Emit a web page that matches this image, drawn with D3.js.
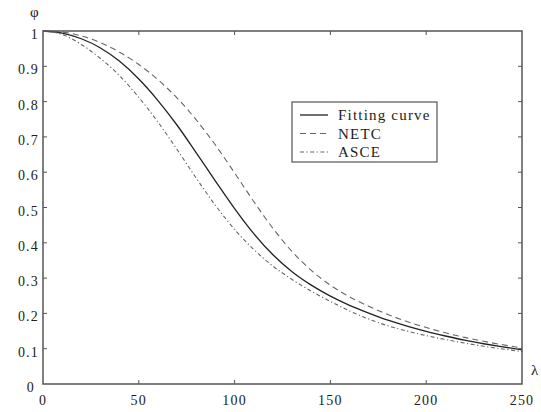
<!DOCTYPE html>
<html>
<head>
<meta charset="utf-8">
<script src="https://cdn.jsdelivr.net/npm/d3@7"></script>
<style>
  body { margin: 0; background: #fff; }
  text { font-family: "Liberation Serif", "Times New Roman", serif; fill: #222; }
</style>
</head>
<body>
<div id="chart"></div>
<script>
// slenderness ratio samples
const lambda = [0, 10, 20, 30, 40, 50, 60, 70, 80, 90, 100, 110, 120, 130, 140, 150, 160, 170, 180, 190, 200, 210, 220, 230, 240, 250];
// fitting curve
const fitting = [1, 0.994, 0.978, 0.952, 0.914, 0.864, 0.803, 0.733, 0.655, 0.575, 0.497, 0.426, 0.366, 0.318, 0.28, 0.249, 0.223, 0.201, 0.181, 0.164, 0.149, 0.136, 0.124, 0.114, 0.105, 0.097];
// NETC
const netc = [1, 0.997, 0.986, 0.967, 0.94, 0.905, 0.862, 0.81, 0.748, 0.677, 0.598, 0.517, 0.441, 0.375, 0.322, 0.28, 0.247, 0.22, 0.197, 0.177, 0.16, 0.145, 0.132, 0.121, 0.111, 0.102];
// ASCE
const asce = [1, 0.99, 0.962, 0.922, 0.873, 0.812, 0.742, 0.664, 0.583, 0.506, 0.438, 0.381, 0.334, 0.296, 0.263, 0.234, 0.207, 0.184, 0.165, 0.15, 0.137, 0.126, 0.116, 0.107, 0.099, 0.092];

const xTicks = [0, 50, 100, 150, 200, 250];
const yTicks = [0, 0.1, 0.2, 0.3, 0.4, 0.5, 0.6, 0.7, 0.8, 0.9, 1];
const legendNames = ["Fitting curve", "NETC", "ASCE"];

const width = 541, height = 412;
const margin = { top: 31, right: 19, bottom: 28, left: 43 };
const w = width - margin.left - margin.right;
const h = height - margin.top - margin.bottom;

const svg = d3.select("#chart").append("svg")
    .attr("width", width)
    .attr("height", height);

const g = svg.append("g")
    .attr("transform", "translate(" + margin.left + "," + margin.top + ")");

const x = d3.scaleLinear().domain([0, 250]).range([0, w]);
const y = d3.scaleLinear().domain([0, 1]).range([h, 0]);

// curves
const series = [
    { values: fitting, dash: null, color: "#222", width: 1.3 },
    { values: netc, dash: "6,4", color: "#666", width: 1.1 },
    { values: asce, dash: "4,2.5,1.2,2.5", color: "#666", width: 1.1 }
];

const line = d3.line()
    .x(d => x(d[0]))
    .y(d => y(d[1]))
    .curve(d3.curveMonotoneX);

series.forEach(s => {
    g.append("path")
        .datum(lambda.map((l, i) => [l, s.values[i]]))
        .attr("fill", "none")
        .attr("stroke", s.color)
        .attr("stroke-width", s.width)
        .attr("stroke-dasharray", s.dash)
        .attr("d", line);
});

// inward ticks, on all four sides
const axisColor = "#555";
const tl = 4;
g.selectAll(".xt").data(xTicks.slice(1, -1)).enter().append("path")
    .attr("stroke", axisColor)
    .attr("d", d => "M" + x(d) + "," + h + "v" + (-tl) + "M" + x(d) + ",0v" + tl);
g.selectAll(".yt").data(yTicks.slice(1, -1)).enter().append("path")
    .attr("stroke", axisColor)
    .attr("d", d => "M0," + y(d) + "h" + tl + "M" + w + "," + y(d) + "h" + (-tl));

// frame
g.append("rect")
    .attr("width", w)
    .attr("height", h)
    .attr("fill", "none")
    .attr("stroke", axisColor)
    .attr("stroke-width", 1.5);

// tick labels
g.selectAll(".xl").data(xTicks).enter().append("text")
    .attr("x", d => x(d))
    .attr("y", h + 21)
    .attr("text-anchor", "middle")
    .attr("font-size", 14)
    .attr("letter-spacing", 1.2)
    .text(d => d);

g.selectAll(".yl").data(yTicks).enter().append("text")
    .attr("x", d => d === 0 ? -8 : -4)
    .attr("y", d => y(d) + 8)
    .attr("text-anchor", "end")
    .attr("font-size", 14)
    .attr("letter-spacing", 1.2)
    .text(d => d);

// axis names
svg.append("text").attr("x", 30).attr("y", 17).attr("font-size", 15).text("φ");
svg.append("text").attr("x", 531).attr("y", 375).attr("font-size", 15).text("λ");

// legend
const lg = svg.append("g").attr("transform", "translate(292,102)");
lg.append("rect")
    .attr("width", 145)
    .attr("height", 60)
    .attr("fill", "#fff")
    .attr("stroke", axisColor)
    .attr("stroke-width", 1.2);

legendNames.forEach((name, i) => {
    const ly = 13 + i * 18.5;
    lg.append("line")
        .attr("x1", 8).attr("x2", 36)
        .attr("y1", ly).attr("y2", ly)
        .attr("stroke", series[i].color)
        .attr("stroke-width", series[i].width)
        .attr("stroke-dasharray", series[i].dash);
    lg.append("text")
        .attr("x", 46)
        .attr("y", ly + 5)
        .attr("font-size", 15)
        .attr("letter-spacing", 1.2)
        .text(name);
});
</script>
</body>
</html>
